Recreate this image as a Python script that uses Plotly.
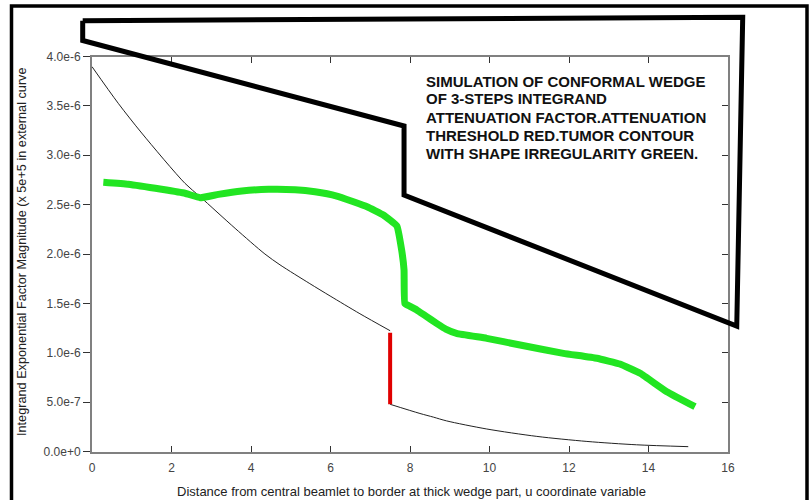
import plotly.graph_objects as go

# ---------------- data ----------------
upper_x = [0.0, 0.66, 1.25, 2.34, 2.72, 3.6, 4.35, 4.73, 5.48, 5.99, 6.74, 7.5]
upper_y = [3.897e-6, 3.526e-6, 3.225e-6, 2.715e-6, 2.58e-6, 2.26e-6, 2.0e-6,
           1.89e-6, 1.70e-6, 1.575e-6, 1.395e-6, 1.223e-6]

threshold_x = [7.5, 7.5]
threshold_y = [1.203e-6, 0.478e-6]

lower_x = [7.5, 8.25, 8.59, 8.92, 9.93, 11.19, 12.45, 13.7, 15.0]
lower_y = [0.478e-6, 0.385e-6, 0.348e-6, 0.31e-6, 0.228e-6, 0.153e-6, 0.102e-6,
           0.068e-6, 0.049e-6]

tumor_x = [0.285, 0.91, 1.75, 2.34, 2.72, 3.18, 3.77, 4.44, 5.11, 5.61, 6.16,
           6.92, 7.33, 7.67, 7.79, 7.85, 7.87, 8.0, 8.17, 8.4, 8.67, 8.9, 9.17,
           9.93, 10.77, 11.86, 12.7, 13.28, 13.79, 14.46, 15.17]
tumor_y = [2.726e-6, 2.706e-6, 2.655e-6, 2.615e-6, 2.57e-6, 2.604e-6, 2.638e-6,
           2.655e-6, 2.651e-6, 2.631e-6, 2.587e-6, 2.479e-6, 2.395e-6, 2.284e-6,
           2.04e-6, 1.838e-6, 1.50e-6, 1.47e-6, 1.433e-6, 1.37e-6, 1.298e-6,
           1.24e-6, 1.197e-6, 1.146e-6, 1.078e-6, 0.994e-6, 0.944e-6, 0.886e-6,
           0.792e-6, 0.606e-6, 0.454e-6]

wedge_x = [-0.234, 16.37, 16.22, 7.85, 7.85, -0.234, -0.234]
wedge_y = [4.363e-6, 4.397e-6, 1.271e-6, 2.597e-6, 3.296e-6, 4.162e-6, 4.363e-6]

x_tick_vals = [0, 2, 4, 6, 8, 10, 12, 14, 16]
x_tick_labels = ["0", "2", "4", "6", "8", "10", "12", "14", "16"]
y_tick_vals = [0, 0.5e-6, 1.0e-6, 1.5e-6, 2.0e-6, 2.5e-6, 3.0e-6, 3.5e-6, 4.0e-6]
y_tick_labels = ["0.0e+0", "5.0e-7", "1.0e-6", "1.5e-6", "2.0e-6", "2.5e-6",
                 "3.0e-6", "3.5e-6", "4.0e-6"]

x_title = "Distance from central beamlet to border at thick wedge part, u coordinate variable"
y_title = "Integrand Exponential Factor Magnitude (x 5e+5 in external curve"
note_lines = ["SIMULATION OF CONFORMAL WEDGE", "OF 3-STEPS INTEGRAND",
              "ATTENUATION FACTOR.ATTENUATION", "THRESHOLD RED.TUMOR CONTOUR",
              "WITH SHAPE IRREGULARITY GREEN."]

# ---------------- layout geometry ----------------
W, H = 812, 500
PX_L, PX_R = 92.0, 728.0      # pixel of x=0 and x=16
PY_B, PY_T = 451.5, 56.5      # pixel of y=0 and y=4e-6
X_MIN, X_MAX = 0.0, 16.0
Y_MIN, Y_MAX = 0.0, 4.0e-6
xs = (X_MAX - X_MIN) / (PX_R - PX_L)
ys = (Y_MAX - Y_MIN) / (PY_B - PY_T)
full_xr = [X_MIN - PX_L * xs, X_MIN + (W - PX_L) * xs]
full_yr = [Y_MIN - (H - PY_B) * ys, Y_MIN + PY_B * ys]

font_family = "Liberation Sans, Arial, sans-serif"
axis_gray = "#808080"

fig = go.Figure()

fig.add_trace(go.Scatter(x=upper_x, y=upper_y, mode="lines",
                         line=dict(color="#222222", width=1, shape="spline", smoothing=0.8),
                         xaxis="x", yaxis="y", showlegend=False))
fig.add_trace(go.Scatter(x=lower_x, y=lower_y, mode="lines",
                         line=dict(color="#222222", width=1, shape="spline", smoothing=0.8),
                         xaxis="x", yaxis="y", showlegend=False))
fig.add_trace(go.Scatter(x=threshold_x, y=threshold_y, mode="lines",
                         line=dict(color="#e00000", width=4), xaxis="x", yaxis="y",
                         showlegend=False))
fig.add_trace(go.Scatter(x=tumor_x, y=tumor_y, mode="lines",
                         line=dict(color="#22e522", width=7, shape="spline", smoothing=0.3),
                         xaxis="x", yaxis="y", showlegend=False))
fig.add_trace(go.Scatter(x=wedge_x, y=wedge_y, mode="lines",
                         line=dict(color="#000000", width=5), xaxis="x3", yaxis="y3",
                         showlegend=False))
fig.add_trace(go.Scatter(x=[None], y=[None], xaxis="x", yaxis="y2", showlegend=False,
                         hoverinfo="skip"))

annotations = []
for i, line in enumerate(note_lines):
    annotations.append(dict(
        text="<b>" + line + "</b>", xref="paper", yref="paper",
        x=424.0 / W, y=1 - (81.0 + 18.0 * i) / H,
        xanchor="left", yanchor="middle", align="left", showarrow=False,
        font=dict(family=font_family, size=15, color="#111111")))
annotations.append(dict(
    text=x_title, xref="paper", yref="paper", x=411.0 / W, y=1 - 491.5 / H,
    xanchor="center", yanchor="middle", showarrow=False,
    font=dict(family=font_family, size=13, color="#222222")))
annotations.append(dict(
    text=y_title, xref="paper", yref="paper", x=22.0 / W, y=1 - 252.0 / H,
    xanchor="center", yanchor="middle", textangle=-90, showarrow=False,
    font=dict(family=font_family, size=12.7, color="#222222")))

fig.update_layout(
    width=W, height=H,
    margin=dict(l=0, r=0, t=0, b=0, pad=0),
    paper_bgcolor="white", plot_bgcolor="rgba(0,0,0,0)",
    font=dict(family=font_family, size=12, color="#333333"),
    xaxis=dict(domain=[PX_L / W, PX_R / W], range=[X_MIN, X_MAX],
               tickvals=x_tick_vals, ticktext=x_tick_labels,
               ticks="inside", ticklen=6, tickcolor="#333333", tickwidth=1,
               ticklabelstandoff=4,
               showline=True, linecolor=axis_gray, linewidth=2, mirror="ticks",
               showgrid=False, zeroline=False, anchor="y", automargin=False,
               tickfont=dict(size=12, color="#444444")),
    yaxis=dict(domain=[(H - PY_B) / H, (H - PY_T) / H], range=[Y_MIN, Y_MAX],
               tickvals=y_tick_vals, ticktext=y_tick_labels,
               ticks="outside", ticklen=7, tickcolor="#333333", tickwidth=1,
               showline=True, linecolor=axis_gray, linewidth=2,
               showgrid=False, zeroline=False, anchor="x", automargin=False,
               tickfont=dict(size=12, color="#444444")),
    yaxis2=dict(overlaying="y", side="right", range=[Y_MIN, Y_MAX],
                tickvals=y_tick_vals, showticklabels=False,
                ticks="inside", ticklen=6, tickcolor="#333333", tickwidth=1,
                showline=True, linecolor=axis_gray, linewidth=2,
                showgrid=False, zeroline=False, anchor="x", automargin=False),
    xaxis3=dict(domain=[0, 1], range=full_xr, visible=False, anchor="y3",
                automargin=False),
    yaxis3=dict(domain=[0, 1], range=full_yr, visible=False, anchor="x3",
                automargin=False),
    shapes=[dict(type="rect", xref="paper", yref="paper",
                 x0=11.5 / W, x1=807.0 / W, y0=-0.02, y1=1 - 6.0 / H,
                 line=dict(color="black", width=3.5))],
    annotations=annotations,
)

fig.write_html("out.html", config={"displayModeBar": False},
               post_script="document.body.style.margin='0';document.body.style.overflow='hidden';")
